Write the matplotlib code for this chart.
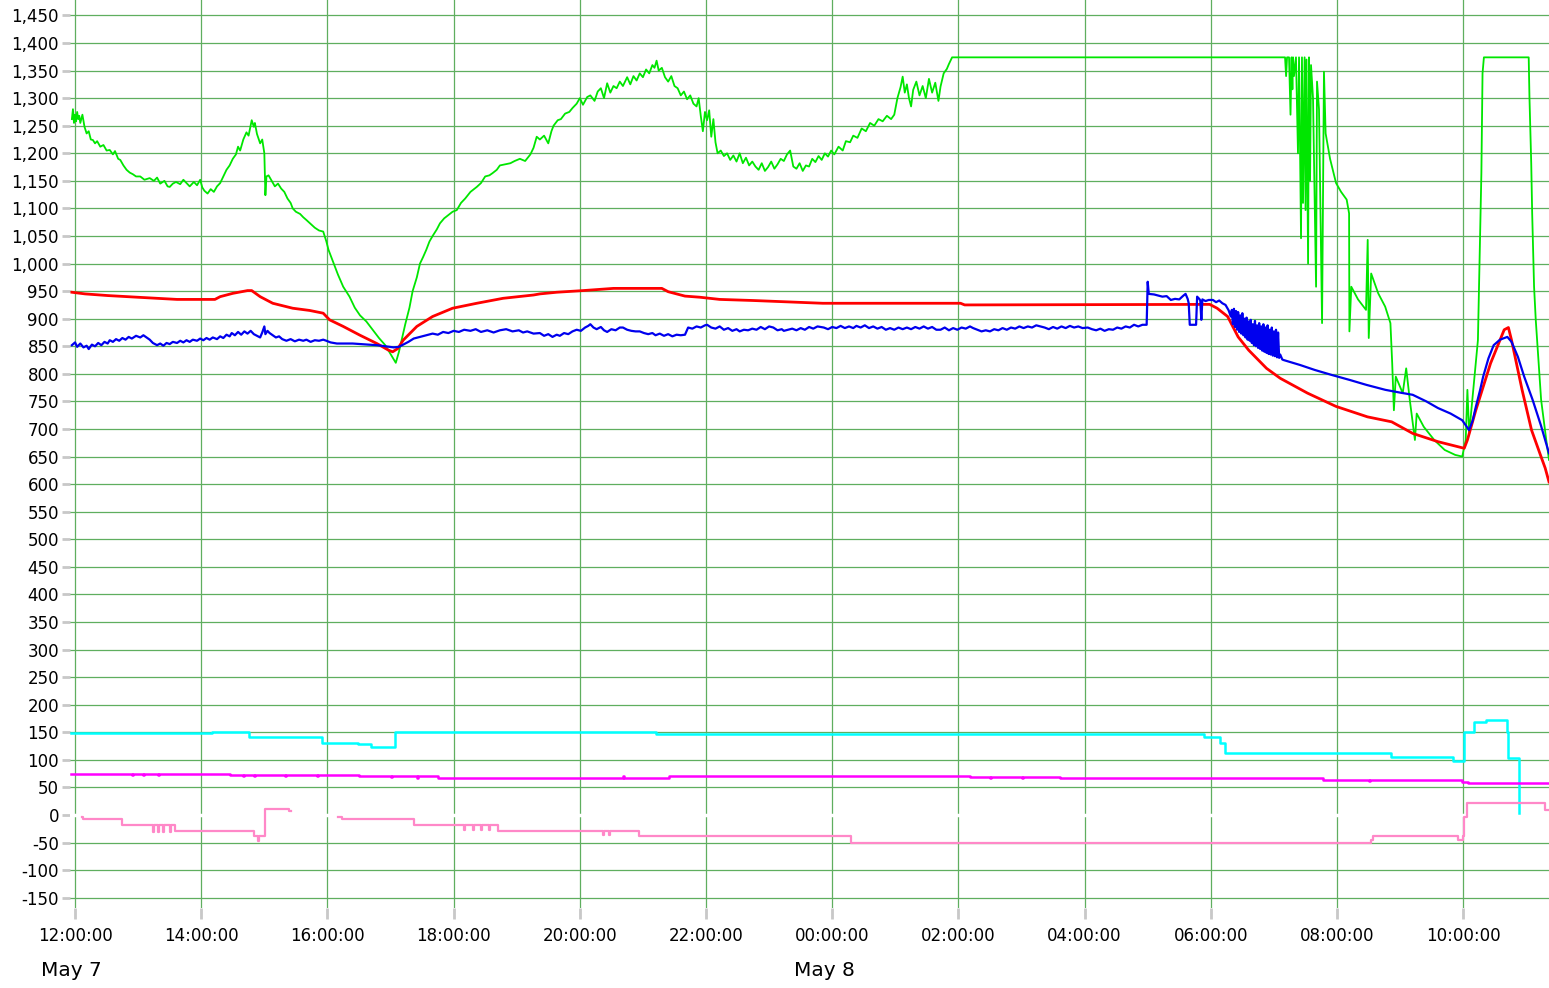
import matplotlib
matplotlib.use("Agg")
import matplotlib.pyplot as plt
import matplotlib.dates as mdates
import matplotlib.ticker as mticker
import numpy as np
import pandas as pd

# minutes after 12:00 on May 7, and readings
green_min = [-3, -2, -1, 0, 1, 2, 3, 4, 5, 7, 9, 11, 13, 15, 17, 19, 21, 24, 27, 30, 33, 36, 38, 41, 43, 46, 49, 52, 55, 58,
             62, 66, 71, 75, 78, 81, 85, 88, 90, 93, 96, 100, 103, 106, 109, 113, 116, 119, 121, 123, 126, 129, 132, 135, 138,
             141, 144, 147, 150, 153, 155, 157, 160, 163, 165, 168, 170, 171, 173, 176, 178, 180, 181, 182, 184, 187, 190, 193,
             196, 199, 202, 205, 207, 210, 214, 217, 220, 224, 228, 232, 236, 239, 241, 245, 250, 255, 261, 266, 271, 277, 283,
             289, 295, 300, 305, 308, 311, 314, 318, 321, 325, 328, 331, 334, 337, 340, 344, 347, 351, 355, 359, 363, 367, 371,
             376, 382, 386, 390, 394, 397, 401, 404, 409, 414, 418, 423, 428, 433, 436, 439, 442, 446, 450, 453, 455, 459, 462,
             466, 470, 473, 477, 480, 483, 487, 490, 494, 497, 500, 503, 506, 509, 512, 515, 518, 521, 525, 528, 531, 534, 537,
             540, 543, 546, 549, 551, 553, 555, 558, 561, 564, 567, 570, 573, 576, 579, 582, 585, 588, 591, 593, 595, 597, 599,
             601, 603, 605, 607, 609, 611, 614, 617, 620, 623, 626, 629, 632, 635, 638, 641, 644, 647, 650, 653, 656, 659, 662,
             665, 668, 671, 674, 677, 680, 683, 686, 689, 692, 695, 698, 701, 704, 707, 710, 713, 716, 719, 722, 726, 730, 733,
             737, 740, 744, 748, 752, 756, 760, 764, 768, 772, 776, 779, 782, 785, 787, 789, 791, 793, 795, 797, 800, 803, 806,
             809, 812, 815, 818, 821, 823, 826, 829, 831, 834,
             1150.6, 1151.6, 1152.5, 1154.4, 1155.8, 1156.8, 1157.6, 1158.2, 1159.1, 1161.0, 1162.9, 1163.9, 1165.8, 1166.7,
             1167.7, 1169.2, 1170.1, 1171.0, 1172.5, 1173.4, 1174.4, 1175.3, 1177.2, 1180.1, 1181.0, 1182.9, 1185.8, 1187.6,
             1189.2, 1193.4, 1199.1, 1203.9, 1209.2, 1211.5, 1211.8, 1213.6, 1220.0, 1227.6, 1229.2, 1230.2, 1232.5, 1239.2,
             1245.8, 1250.8, 1252.5, 1254.1, 1255.9, 1262.5, 1265.8, 1269.2, 1274.1, 1275.8, 1282.5, 1292.5, 1302.4, 1312.4,
             1319.1, 1322.4, 1324.0, 1325.7, 1330.7, 1334.0, 1335.7, 1337.3, 1338.4, 1339.7, 1382.3, 1383.0, 1384.7, 1385.6,
             1387.4, 1389.0, 1394.1, 1399.0, 1401.6]
green_val = [1262, 1280, 1255, 1270, 1258, 1275, 1262, 1268, 1255, 1270, 1248, 1236, 1240, 1225, 1224, 1218, 1222, 1212, 1215,
             1205, 1206, 1198, 1204, 1190, 1188, 1178, 1170, 1165, 1162, 1158, 1158, 1152, 1155, 1150, 1156, 1145, 1150, 1140,
             1139, 1145, 1148, 1144, 1152, 1146, 1140, 1148, 1142, 1152, 1138, 1132, 1127, 1135, 1130, 1140, 1146, 1158, 1170,
             1178, 1190, 1198, 1212, 1205, 1225, 1238, 1232, 1260, 1248, 1255, 1235, 1218, 1225, 1200, 1124, 1158, 1160, 1150,
             1140, 1145, 1136, 1130, 1118, 1110, 1100, 1094, 1090, 1084, 1079, 1072, 1065, 1060, 1058, 1040, 1025, 1005, 980,
             958, 940, 920, 906, 895, 880, 865, 852, 836, 820, 840, 865, 890, 920, 950, 975, 1000, 1012, 1025, 1040, 1050, 1062,
             1073, 1082, 1088, 1094, 1097, 1110, 1118, 1130, 1139, 1146, 1158, 1160, 1164, 1170, 1178, 1180, 1182, 1186, 1190,
             1186, 1198, 1210, 1230, 1225, 1232, 1218, 1240, 1250, 1260, 1262, 1272, 1275, 1282, 1290, 1300, 1288, 1302, 1305,
             1295, 1312, 1318, 1300, 1327, 1310, 1322, 1318, 1330, 1322, 1338, 1325, 1340, 1332, 1345, 1338, 1352, 1345, 1360,
             1355, 1368, 1350, 1355, 1338, 1330, 1340, 1322, 1318, 1305, 1312, 1298, 1305, 1290, 1285, 1300, 1268, 1240, 1275,
             1260, 1278, 1230, 1262, 1220, 1200, 1205, 1195, 1200, 1188, 1196, 1185, 1200, 1182, 1192, 1178, 1185, 1176, 1170,
             1182, 1168, 1175, 1185, 1172, 1180, 1190, 1186, 1198, 1205, 1176, 1172, 1182, 1168, 1178, 1176, 1190, 1184, 1195,
             1188, 1200, 1194, 1205, 1198, 1212, 1205, 1222, 1220, 1232, 1228, 1245, 1240, 1255, 1250, 1262, 1258, 1268, 1262,
             1270, 1300, 1320, 1339, 1310, 1325, 1300, 1285, 1315, 1330, 1305, 1322, 1300, 1335, 1310, 1328, 1295, 1321, 1345,
             1353, 1362, 1374,
             1374, 1340, 1374, 1374, 1270, 1374, 1316, 1374, 1340, 1374, 1200, 1374, 1046, 1374, 1110, 1374, 1097, 1370, 1000,
             1374, 1150, 1360, 1300, 958, 1330, 1280, 892, 1348, 1236, 1190, 1146, 1130, 1116, 1091, 877, 958, 935, 916, 1043,
             865, 982, 946, 922, 892, 819, 734, 795, 765, 810, 753, 680, 728, 704, 680, 662, 653, 650, 680, 771, 692, 795, 861,
             1019, 1164, 1345, 1374, 1374, 1303, 1182, 1091, 958, 898, 753, 680, 644]

red_min = [-3, 9.5, 31, 59, 97, 133, 138, 150, 164, 168, 176, 188, 207, 223, 236, 242, 255, 271, 287, 298, 302, 307, 312,
           325, 340, 359, 382, 407, 436, 442, 458, 483, 512, 558, 564, 580, 594, 613, 645, 711, 842, 846, 1079, 1086, 1096,
           1106, 1116, 1133, 1146, 1172, 1199, 1229, 1252, 1272, 1296, 1321, 1324, 1332, 1346, 1359, 1363, 1366, 1376, 1385,
           1394, 1398, 1401.6]
red_val = [948, 945, 942, 939, 935, 935, 940, 946, 951, 951, 940, 928, 919, 915, 910, 898, 886, 870, 855, 843, 840, 846, 861,
           886, 904, 919, 928, 937, 943, 945, 948, 951, 955, 955, 949, 941, 939, 935, 933, 928, 928, 925, 926, 919, 904, 867,
           843, 810, 792, 765, 741, 722, 713, 692, 677, 665, 680, 734, 819, 880, 884, 861, 771, 698, 650, 629, 604]

blue_min = [-3, 0, 2, 5, 8, 11, 13, 16, 19, 22, 25, 28, 31, 33, 36, 39, 42, 45, 48, 51, 54, 58, 62, 65, 68, 71, 74, 78, 81, 84,
            87, 90, 93, 97, 100, 103, 106, 109, 112, 116, 119, 122, 125, 128, 131, 135, 138, 141, 144, 147, 149, 152, 155, 158,
            161, 164, 167, 170, 173, 176, 178, 180, 181, 183, 185, 188, 191, 194, 197, 201, 205, 209, 213, 217, 220, 224, 228,
            232, 236, 239, 243, 249, 256, 264, 271, 279, 287, 295, 303, 308, 312, 317, 322, 328, 334, 340, 345, 350, 355, 360,
            365, 370, 376, 381, 386, 392, 398, 404, 410, 416, 422, 426, 430, 436, 442, 446, 450, 454, 458, 461, 465, 469, 473,
            477, 481, 485, 488, 490, 493, 496, 500, 503, 506, 510, 514, 518, 521, 525, 529, 533, 537, 541, 545, 549, 552, 556,
            560, 564, 568, 572, 576, 580, 583, 587, 591, 595, 599, 601, 605, 609, 613, 617, 621, 625, 629, 632, 636, 640, 644,
            648, 652, 656, 660, 664, 668, 672, 674, 678, 682, 686, 690, 694, 698, 702, 706, 712, 716, 720, 724, 728, 732, 736,
            740, 743, 747, 751, 755, 759, 763, 767, 771, 775, 779, 783, 787, 791, 795, 799, 803, 807, 811, 815, 819, 823, 827,
            831, 835, 839, 843, 847, 851, 854, 858, 862, 866, 870, 874, 878, 882, 886, 890, 894, 898, 902, 906, 910, 914, 918,
            922, 926, 930, 934, 938, 942, 946, 950, 954, 958, 963, 967, 971, 975, 979, 983, 987, 991, 995, 999, 1003, 1007,
            1011, 1015, 1019, 1020, 1021, 1026, 1030, 1034, 1038, 1042, 1046, 1050, 1054, 1056, 1058, 1059, 1060, 1063, 1066,
            1067, 1069, 1070, 1071, 1072, 1075, 1078, 1082, 1085, 1088, 1091, 1094, 1097, 1099, 1100, 1101, 1102, 1103, 1104,
            1105, 1106, 1107, 1108, 1109, 1110, 1111, 1112, 1113, 1114, 1115, 1116, 1117, 1118, 1119, 1120, 1121, 1122, 1123,
            1124, 1125, 1126, 1127, 1128, 1129, 1130, 1131, 1132, 1133, 1134, 1135, 1136, 1137, 1138, 1139, 1140, 1141, 1142,
            1143, 1144, 1145, 1146, 1148, 1149.3, 1165, 1179, 1195, 1212, 1228, 1246, 1260, 1272, 1285, 1296, 1308, 1319,
            1322, 1325.6, 1329, 1332, 1336, 1339, 1344, 1349, 1355, 1362, 1366, 1372, 1378, 1386, 1394, 1401.6]
blue_val = [852, 857, 849, 855, 848, 851, 845, 853, 850, 856, 852, 858, 855, 861, 858, 863, 860, 865, 862, 867, 864, 869, 866,
            870, 866, 862, 856, 852, 855, 851, 856, 854, 858, 856, 860, 857, 861, 858, 862, 860, 864, 861, 865, 862, 866, 863,
            868, 865, 871, 868, 874, 870, 876, 871, 877, 873, 878, 872, 869, 866, 875, 886, 872, 878, 874, 870, 866, 868, 863,
            860, 863, 859, 862, 860, 862, 858, 861, 860, 862, 860, 857, 855, 855, 855, 854, 853, 852, 850, 848, 849, 853, 858,
            864, 867, 870, 873, 871, 876, 874, 878, 876, 880, 878, 881, 876, 879, 875, 879, 881, 877, 879, 875, 877, 873, 874,
            869, 872, 867, 871, 869, 874, 872, 877, 880, 878, 884, 887, 890, 884, 881, 885, 879, 876, 881, 879, 884, 884, 880,
            878, 877, 877, 874, 872, 874, 870, 873, 869, 872, 868, 871, 870, 871, 884, 882, 886, 884, 888, 889, 884, 882, 886,
            880, 883, 878, 881, 877, 880, 879, 882, 880, 885, 881, 886, 884, 879, 881, 878, 880, 882, 879, 883, 880, 885, 882,
            886, 884, 881, 885, 883, 887, 883, 886, 883, 887, 884, 888, 883, 886, 882, 885, 880, 883, 880, 884, 881, 884, 881,
            885, 882, 886, 882, 885, 880, 880, 884, 879, 883, 880, 884, 882, 886, 883, 880, 877, 879, 877, 881, 879, 883, 880,
            884, 882, 886, 883, 886, 884, 888, 886, 884, 881, 885, 882, 886, 883, 887, 884, 886, 883, 884, 881, 879, 882, 878,
            881, 880, 884, 882, 886, 884, 889, 886, 889, 889, 967, 945, 944, 942, 940, 941, 934, 936, 935, 942, 945, 936, 928,
            889, 889, 889, 940, 936, 933, 898, 935, 932, 934, 934, 930, 933, 928, 925, 915, 904, 916, 890, 918, 885, 914, 880,
            912, 876, 906, 873, 910, 870, 900, 866, 902, 862, 895, 860, 898, 856, 890, 852, 896, 850, 888, 847, 892, 845, 886,
            842, 890, 840, 884, 838, 888, 836, 880, 835, 884, 833, 877, 832, 880, 830, 875, 829, 835, 826, 825, 816, 807, 798,
            789, 780, 771, 766, 762, 750, 738, 728, 716, 708, 698, 715, 740, 770, 795, 828, 852, 862, 867, 858, 831, 795, 753,
            706, 656]

cyan_min = [-4, 130.5, 165.5, 235, 268.7, 281.5, 304.3, 552.2, 1073.3, 1088.3, 1093.7, 1251.4, 1310.4, 1320.9, 1330,
            1341.3, 1359.5, 1361.5, 1362.9, 1372.8, 1372.9]
cyan_val = [148, 150, 141, 131, 128, 124, 150, 147, 141, 131, 113, 106, 98.5, 150, 169, 172, 172, 150, 103, 3, 3]

magenta_min = [-4, 54, 55, 65, 66, 79, 80, 147, 160, 161, 170, 171, 200, 201, 230, 231, 270, 300, 301, 325, 326, 345, 521,
               522, 565, 851, 870, 871, 900, 901, 937, 1187, 1230, 1231, 1319, 1325, 1326, 1401.6]
magenta_val = [74, 72, 74, 72, 74, 72, 74, 72, 70.7, 72, 70.7, 72, 70.7, 72, 70.7, 72, 70.7, 68, 70.7, 67.7, 70.7, 67.7, 70.7,
               67.7, 70.7, 69, 67.7, 69, 67.7, 69, 67.7, 63.5, 61.5, 63.5, 60, 57.5, 57.5, 57.5]

pink_min = [6.2, 7.6, 44.9, 74, 75, 79, 80, 84, 85, 90, 91, 94.9, 170, 173.6, 175, 180.5, 203.2, 205,
            249.6, 254.2, 322.4, 370, 371, 378, 379, 386, 387, 394, 395, 402, 502, 503, 508, 509, 536.3, 737.9, 1232.5,
            1234.6, 1314.2, 1315.5, 1319.5, 1320.8, 1323.2, 1398.1, 1401.6]
pink_val = [-3, -8, -19, -30, -19, -30, -19, -30, -19, -30, -19, -28.4, -38, -48, -38, 10, 7, np.nan,
            -3, -8, -19, -28, -19, -28, -19, -28, -19, -28, -19, -28.4, -36, -28.4, -36, -28.4, -38, -51, -46,
            -38, -38, -46, -38, -3, 22, 9, 9]

base = pd.Timestamp("2024-05-07 12:00")


def to_time(minutes):
    return base + pd.to_timedelta(np.asarray(minutes, dtype=float), unit="min")


fig = plt.figure(figsize=(15.49, 9.88), dpi=100)
ax = fig.add_axes([70 / 1549, 1 - 908 / 988, 1 - 70 / 1549, 908 / 988])

ax.plot(to_time(green_min), green_val, color="#00e600", lw=1.3, zorder=3)
ax.plot(to_time(red_min), red_val, color="#ff0000", lw=2.0, zorder=4)
ax.plot(to_time(blue_min), blue_val, color="#0000ee", lw=1.6, zorder=5)
ax.plot(to_time(cyan_min), cyan_val, color="#00ffff", lw=1.8, drawstyle="steps-post", zorder=4)
ax.plot(to_time(magenta_min), magenta_val, color="#ff00ff", lw=1.8, drawstyle="steps-post", zorder=4)
ax.plot(to_time(pink_min), pink_val, color="#ff88c8", lw=1.6, drawstyle="steps-post", zorder=4)

ax.set_xlim(base - pd.Timedelta(minutes=4.8), base + pd.Timedelta(minutes=1401.6))
ax.set_ylim(-168.7, 1478)

ax.yaxis.set_major_locator(mticker.MultipleLocator(50))
ax.yaxis.set_major_formatter(mticker.FuncFormatter(lambda v, p: f"{int(round(v)):,}"))
ax.xaxis.set_major_locator(mdates.HourLocator(byhour=range(0, 24, 2)))
ax.xaxis.set_major_formatter(mdates.DateFormatter("%H:%M:%S"))

ax.grid(True, color="#5fae5f", lw=0.9, zorder=1)
ax.axhline(0, color="white", lw=2.5, zorder=2)
for s in ax.spines.values():
    s.set_visible(False)
ax.tick_params(axis="y", length=6, width=2, color="#c8c8c8", labelsize=12, pad=2)
ax.tick_params(axis="x", length=8, width=2, color="#c8c8c8", labelsize=12, pad=6)

fig.text(71 / 1549, 1 - 970 / 988, "May 7", ha="center", va="center", fontsize=14.5)
fig.text(824 / 1549, 1 - 970 / 988, "May 8", ha="center", va="center", fontsize=14.5)

fig.savefig("out.png", dpi=100)
